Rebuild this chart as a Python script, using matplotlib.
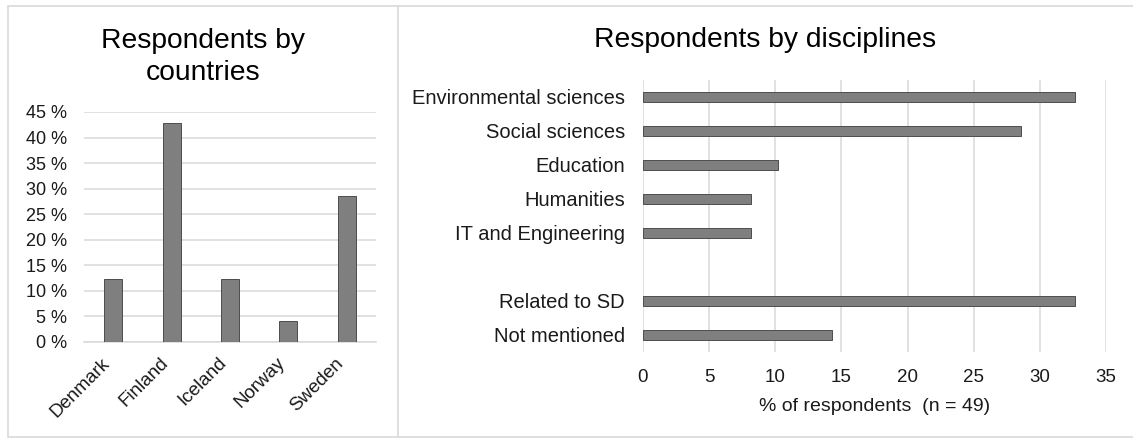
import matplotlib
matplotlib.use("Agg")
import matplotlib.pyplot as plt
from matplotlib.patches import Rectangle
from matplotlib.lines import Line2D
import numpy as np

plt.rcParams['font.family'] = ['Liberation Sans', 'DejaVu Sans']

# ---- data ----
countries = ["Denmark", "Finland", "Iceland", "Norway", "Sweden"]
country_pct = [12.24, 42.86, 12.24, 4.08, 28.57]
country_ticks = [0, 5, 10, 15, 20, 25, 30, 35, 40, 45]

disciplines = ["Environmental sciences", "Social sciences", "Education",
               "Humanities", "IT and Engineering"]
discipline_pct = [32.65, 28.57, 10.20, 8.16, 8.16]
sd_groups = ["Related to SD", "Not mentioned"]
sd_pct = [32.65, 14.29]
disc_xticks = [0, 5, 10, 15, 20, 25, 30, 35]

W, H = 1133, 438
fig = plt.figure(figsize=(W / 100, H / 100), dpi=100)
fig.patch.set_facecolor('white')

def fx(px):
    return px / W

def fy(py):
    return 1 - py / H

BAR = '#7f7f7f'
EDGE = '#4d4d4d'
GRID = '#d9d9d9'
TXT = '#1a1a1a'

# panel borders
fig.add_artist(Rectangle((fx(8), fy(437)), fx(398) - fx(8), fy(6) - fy(437),
                         transform=fig.transFigure, fill=False, edgecolor=GRID, lw=1.2))
fig.add_artist(Line2D([fx(398), 1.0], [fy(6), fy(6)], transform=fig.transFigure, color=GRID, lw=1.2))
fig.add_artist(Line2D([fx(398), 1.0], [fy(437), fy(437)], transform=fig.transFigure, color=GRID, lw=1.2))

# ---- left chart ----
ax1 = fig.add_axes([fx(84), fy(342), fx(376) - fx(84), fy(112) - fy(342)])
x1 = np.arange(len(countries))
ax1.bar(x1, country_pct, width=0.31, color=BAR, edgecolor=EDGE, linewidth=0.7, zorder=3)
ax1.set_xlim(-0.5, len(countries) - 0.5)
ax1.set_ylim(0, 45)
ax1.set_yticks(country_ticks)
ax1.set_yticklabels([f"{t} %" for t in country_ticks], fontsize=13, color=TXT)
ax1.yaxis.grid(True, color=GRID, lw=1.1, zorder=0)
ax1.set_axisbelow(True)
for s in ['top', 'right', 'left']:
    ax1.spines[s].set_visible(False)
ax1.spines['bottom'].set_color(GRID)
ax1.spines['bottom'].set_linewidth(1.1)
ax1.tick_params(axis='both', length=0)
ax1.tick_params(axis='y', pad=12)
ax1.set_xticks(x1)
ax1.set_xticklabels(countries, rotation=45, ha='right', va='top',
                    fontsize=13.5, color=TXT)
ax1.tick_params(axis='x', pad=9)

fig.text(fx(203), fy(47.7), "Respondents by", ha='center', va='baseline', fontsize=20.3, color='black')
fig.text(fx(203), fy(80), "countries", ha='center', va='baseline', fontsize=20.3, color='black')

# ---- right chart ----
ax2 = fig.add_axes([fx(643), fy(352), fx(1106) - fx(643), fy(80) - fy(352)])
n_d = len(disciplines)
pos_d = np.arange(n_d)
pos_s = np.arange(len(sd_groups)) + n_d + 1
ax2.barh(pos_d, discipline_pct, height=0.31, color=BAR, edgecolor=EDGE, linewidth=0.7, zorder=3)
ax2.barh(pos_s, sd_pct, height=0.31, color=BAR, edgecolor=EDGE, linewidth=0.7, zorder=3)
ax2.set_ylim(pos_s[-1] + 0.5, -0.5)
ax2.set_xlim(0, 35)
ax2.set_xticks(disc_xticks)
ax2.set_xticklabels([str(t) for t in disc_xticks], fontsize=13.5, color=TXT)
ax2.set_yticks(list(pos_d) + list(pos_s))
ax2.set_yticklabels(disciplines + sd_groups, fontsize=14.5, color=TXT)
ax2.xaxis.grid(True, color=GRID, lw=1.1, zorder=0)
ax2.set_axisbelow(True)
for s in ['top', 'right', 'left', 'bottom']:
    ax2.spines[s].set_visible(False)
ax2.tick_params(axis='both', length=0)
ax2.tick_params(axis='y', pad=13)
ax2.tick_params(axis='x', pad=12)
ax2.set_xlabel("% of respondents  (n = 49)", fontsize=14, color=TXT, labelpad=9)

fig.text(fx(765), fy(47), "Respondents by disciplines", ha='center', va='baseline',
         fontsize=20.3, color='black')

fig.savefig("out.png", dpi=100, facecolor='white')
